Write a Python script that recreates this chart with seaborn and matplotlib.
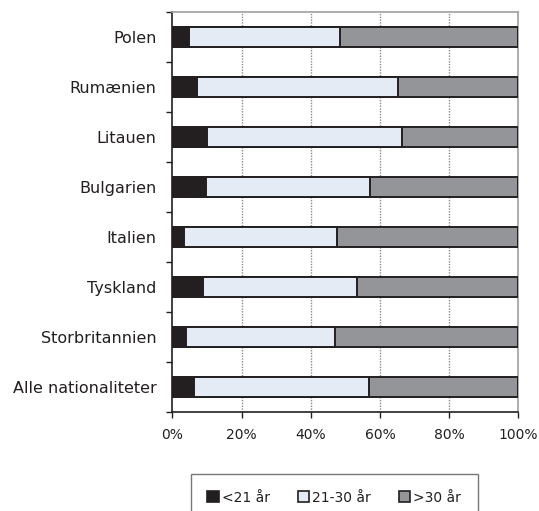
import numpy as np
import pandas as pd
import matplotlib
matplotlib.use("Agg")
import matplotlib.pyplot as plt
from matplotlib.patches import Patch
import seaborn as sns

categories = ["Polen", "Rumænien", "Litauen", "Bulgarien", "Italien",
              "Tyskland", "Storbritannien", "Alle nationaliteter"]
under21 = [4.8, 7.0, 10.0, 9.6, 3.5, 8.9, 3.9, 6.3]
age21_30 = [43.8, 58.1, 56.4, 47.4, 44.1, 44.5, 43.2, 50.5]
over30 = [51.4, 34.9, 33.6, 43.0, 52.4, 46.6, 52.9, 43.2]
series_names = ["<21 år", "21-30 år", ">30 år"]
xticklabels = ["0%", "20%", "40%", "60%", "80%", "100%"]

colors = ["#231F20", "#E4EBF4", "#939598"]
edge = "#231F20"

sns.set_theme(style="white")
plt.rcParams['font.family'] = ['DejaVu Sans']

df = pd.DataFrame({"cat": categories, "a": under21, "b": age21_30, "c": over30})
df["cum1"] = df["a"]
df["cum2"] = df["a"] + df["b"]
df["cum3"] = df["a"] + df["b"] + df["c"]

fig = plt.figure(figsize=(5.39, 5.11), dpi=100)
ax = fig.add_axes([0.3197, 0.1943, 0.6419, 0.7828])

for col, c in zip(["cum3", "cum2", "cum1"], [colors[2], colors[1], colors[0]]):
    sns.barplot(data=df, x=col, y="cat", orient="h", color=c, width=0.4,
                edgecolor=edge, linewidth=1.4, saturation=1, ax=ax, zorder=3)

ax.set_xlim(0, 100)
ax.set_ylim(len(categories) - 0.5, -0.5)
ax.set_xlabel("")
ax.set_ylabel("")
ax.set_xticks([0, 20, 40, 60, 80, 100])
ax.set_xticklabels(xticklabels, fontsize=10, color="#231F20")
ax.set_yticks(range(len(categories)))
ax.set_yticklabels(categories, fontsize=11.5, color="#231F20")
ax.tick_params(axis="y", which="major", length=0, pad=11.5)
ax.set_yticks(np.arange(-0.5, len(categories), 1.0), minor=True)
ax.tick_params(axis="y", which="minor", length=4, width=1, color="#231F20", direction="out", left=True)
ax.tick_params(axis="x", which="major", length=4, width=1, color="#231F20", direction="out", bottom=True, pad=8)

for xv in [20, 40, 60, 80]:
    ax.axvline(xv, color="#8a8a8a", linestyle=(0, (1, 1)), linewidth=1, zorder=1)

for s in ["left", "bottom"]:
    ax.spines[s].set_color("#231F20")
    ax.spines[s].set_linewidth(1.2)
for s in ["top", "right"]:
    ax.spines[s].set_color("#a0a0a0")
    ax.spines[s].set_linewidth(1.2)

handles = [Patch(facecolor=c, edgecolor=edge, linewidth=1.2) for c in colors]
leg = fig.legend(handles, series_names, loc="lower center", bbox_to_anchor=(0.62, -0.02),
                 ncol=3, frameon=True, fancybox=False, edgecolor="#555555",
                 fontsize=10, handlelength=0.85, handleheight=0.85, handletextpad=0.2,
                 columnspacing=2.0, borderpad=1.2, borderaxespad=0)
leg.get_frame().set_linewidth(1.0)
for t in leg.get_texts():
    t.set_color("#231F20")

fig.savefig("out.png", dpi=100)
